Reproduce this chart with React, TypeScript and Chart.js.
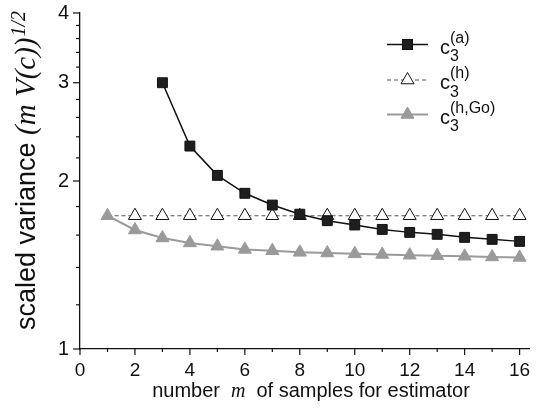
import { useEffect, useRef } from "react";
import { Chart, registerables } from "chart.js";

Chart.register(...registerables);

// ---- data ----
const mA = [3, 4, 5, 6, 7, 8, 9, 10, 11, 12, 13, 14, 15, 16];
const valuesA = [3.0, 2.31, 2.047, 1.901, 1.811, 1.744, 1.698, 1.668, 1.638, 1.618, 1.605, 1.585, 1.572, 1.559];

const mH = [1, 2, 3, 4, 5, 6, 7, 8, 9, 10, 11, 12, 13, 14, 15, 16];
const valuesH = [1.733, 1.733, 1.733, 1.733, 1.733, 1.733, 1.733, 1.733, 1.733, 1.733, 1.733, 1.733, 1.733, 1.733, 1.733, 1.733];

const mGo = [1, 2, 3, 4, 5, 6, 7, 8, 9, 10, 11, 12, 13, 14, 15, 16];
const valuesGo = [1.733, 1.634, 1.581, 1.549, 1.528, 1.508, 1.5, 1.49, 1.486, 1.481, 1.477, 1.4725, 1.469, 1.466, 1.462, 1.459];

const xTickValues = [0, 1, 2, 3, 4, 5, 6, 7, 8, 9, 10, 11, 12, 13, 14, 15, 16];
const xLabelledTicks = [0, 2, 4, 6, 8, 10, 12, 14, 16];
const yTickValues = [1, 1.2, 1.4, 1.6, 1.8, 2, 2.2, 2.4, 2.6, 2.8, 3, 3.2, 3.4, 3.6, 3.8, 4];
const yLabelledTicks = [1, 2, 3, 4];

const legendBase = "c";
const legendSub = "3";
const legendSup = ["(a)", "(h)", "(h,Go)"];

const xTitleParts = ["number", "m", "of samples for estimator"];
const yTitleParts = ["scaled variance ", "(m V(c))", "1/2"];

const SANS = "'Liberation Sans', Arial, sans-serif";
const SERIF = "'Liberation Serif', 'Times New Roman', serif";
const INK = "#111";
const GRAY = "#9a9a9a";

function drawTriangle(ctx: CanvasRenderingContext2D, x: number, y: number, r: number, fill: string, stroke: string) {
  const s = Math.sin((2 * Math.PI) / 3) * r;
  ctx.beginPath();
  ctx.moveTo(x, y - r);
  ctx.lineTo(x + s, y + r / 2);
  ctx.lineTo(x - s, y + r / 2);
  ctx.closePath();
  ctx.fillStyle = fill;
  ctx.fill();
  ctx.lineWidth = 1;
  ctx.strokeStyle = stroke;
  ctx.stroke();
}

const decorPlugin = {
  id: "decor",
  afterDraw(chart: any) {
    const ctx: CanvasRenderingContext2D = chart.ctx;
    const xs = chart.scales.x;
    const ys = chart.scales.y;
    const area = chart.chartArea;
    ctx.save();
    // tick marks
    ctx.strokeStyle = INK;
    ctx.lineWidth = 1.2;
    for (const v of xTickValues) {
      const px = xs.getPixelForValue(v);
      const len = xLabelledTicks.includes(v) ? 6 : 3;
      ctx.beginPath();
      ctx.moveTo(px, area.bottom);
      ctx.lineTo(px, area.bottom + len);
      ctx.stroke();
    }
    for (const v of yTickValues) {
      const py = ys.getPixelForValue(v);
      const len = yLabelledTicks.includes(v) ? 7 : 4;
      ctx.beginPath();
      ctx.moveTo(area.left - len, py);
      ctx.lineTo(area.left, py);
      ctx.stroke();
    }

    // legend
    const lx0 = 387;
    const lx1 = 428;
    const mx = 407.5;
    const rows = [44.5, 80, 114.5];
    rows.forEach((ly, i) => {
      ctx.save();
      ctx.beginPath();
      if (i === 0) {
        ctx.strokeStyle = INK;
        ctx.lineWidth = 1.5;
      } else if (i === 1) {
        ctx.strokeStyle = "#555";
        ctx.lineWidth = 1.2;
        ctx.setLineDash([4, 3]);
      } else {
        ctx.strokeStyle = GRAY;
        ctx.lineWidth = 2;
      }
      ctx.moveTo(lx0, ly);
      ctx.lineTo(lx1, ly);
      ctx.stroke();
      ctx.restore();
      if (i === 0) {
        ctx.fillStyle = "#1e1e1e";
        ctx.fillRect(mx - 5, ly - 5, 10, 10);
        ctx.strokeStyle = INK;
        ctx.lineWidth = 1;
        ctx.strokeRect(mx - 5, ly - 5, 10, 10);
      } else if (i === 1) {
        drawTriangle(ctx, mx, ly, 7.5, "#fff", INK);
      } else {
        drawTriangle(ctx, mx, ly, 7.5, GRAY, GRAY);
      }
      ctx.fillStyle = INK;
      ctx.textAlign = "left";
      ctx.textBaseline = "alphabetic";
      ctx.font = `20px ${SANS}`;
      ctx.fillText(legendBase, 440, ly + 9);
      ctx.font = `16px ${SANS}`;
      ctx.fillText(legendSub, 450, ly + 16.5);
      ctx.fillText(legendSup[i], 450, ly - 2);
    });

    // x title
    ctx.fillStyle = INK;
    ctx.textBaseline = "alphabetic";
    ctx.textAlign = "left";
    ctx.font = `20px ${SANS}`;
    const w1 = ctx.measureText(xTitleParts[0]).width;
    const w3 = ctx.measureText(xTitleParts[2]).width;
    ctx.font = `italic 20px ${SERIF}`;
    const w2 = ctx.measureText(xTitleParts[1]).width;
    const gap = 11;
    const total = w1 + gap + w2 + gap + w3;
    let tx = 311 - total / 2;
    const tb = 397;
    ctx.font = `20px ${SANS}`;
    ctx.fillText(xTitleParts[0], tx, tb);
    tx += w1 + gap;
    ctx.font = `italic 20px ${SERIF}`;
    ctx.fillText(xTitleParts[1], tx, tb);
    tx += w2 + gap;
    ctx.font = `20px ${SANS}`;
    ctx.fillText(xTitleParts[2], tx, tb);

    // y title (rotated)
    ctx.translate(35, 330);
    ctx.rotate(-Math.PI / 2);
    ctx.font = `27px ${SANS}`;
    ctx.fillText(yTitleParts[0], 0, 0);
    let yy = ctx.measureText(yTitleParts[0]).width;
    ctx.font = `italic 29px ${SERIF}`;
    ctx.fillText(yTitleParts[1], yy, 0);
    yy += ctx.measureText(yTitleParts[1]).width;
    ctx.font = `italic 20px ${SERIF}`;
    ctx.fillText(yTitleParts[2], yy + 1, -10);
    ctx.restore();
  },
};

export default function App() {
  const ref = useRef<HTMLCanvasElement>(null);
  useEffect(() => {
    const canvas = ref.current;
    if (!canvas) return;
    const chart = new Chart(canvas, {
      type: "line",
      data: {
        datasets: [
          {
            label: "c3(a)",
            data: mA.map((m, i) => ({ x: m, y: valuesA[i] })),
            borderColor: INK,
            borderWidth: 1.5,
            pointStyle: "rect",
            pointRadius: 7,
            pointBackgroundColor: "#1e1e1e",
            pointBorderColor: INK,
            pointBorderWidth: 1,
            tension: 0,
          },
          {
            label: "c3(h,Go)",
            data: mGo.map((m, i) => ({ x: m, y: valuesGo[i] })),
            borderColor: GRAY,
            borderWidth: 2,
            pointStyle: "triangle",
            pointRadius: 7.5,
            pointBackgroundColor: GRAY,
            pointBorderColor: GRAY,
            pointBorderWidth: 1,
            tension: 0,
          },
          {
            label: "c3(h)",
            data: mH.map((m, i) => ({ x: m, y: valuesH[i] })),
            borderColor: "#555",
            borderWidth: 1.2,
            borderDash: [4, 3],
            pointStyle: "triangle",
            pointRadius: (c: any) => (c.dataIndex === 0 ? 0 : 7.5),
            pointBackgroundColor: "#fff",
            pointBorderColor: INK,
            pointBorderWidth: 1,
            tension: 0,
          },
        ],
      },
      options: {
        responsive: false,
        animation: false,
        events: [],
        clip: false as any,
        layout: { padding: { top: 13, right: 1, left: 0, bottom: 0 } },
        plugins: { legend: { display: false }, tooltip: { enabled: false }, title: { display: false } },
        scales: {
          x: {
            type: "linear",
            min: 0,
            max: 16.36,
            afterBuildTicks: (s: any) => {
              s.ticks = xTickValues.map((v) => ({ value: v }));
            },
            afterFit: (s: any) => {
              s.height = 60;
              s.paddingLeft = 0;
              s.paddingRight = 0;
            },
            ticks: {
              autoSkip: false,
              maxRotation: 0,
              padding: 10,
              color: INK,
              font: { family: SANS, size: 19 },
              callback: (v: any) => (xLabelledTicks.includes(Number(v)) ? String(v) : ""),
            },
            grid: { display: false, drawTicks: false, tickLength: 0 },
            border: { display: true, color: INK, width: 1.3 },
          },
          y: {
            type: "logarithmic",
            min: 1,
            max: 4,
            afterBuildTicks: (s: any) => {
              s.ticks = yTickValues.map((v) => ({ value: v }));
            },
            afterFit: (s: any) => {
              s.width = 80;
              s.paddingTop = 0;
              s.paddingBottom = 0;
            },
            ticks: {
              autoSkip: false,
              padding: 11,
              color: INK,
              font: { family: SANS, size: 20 },
              callback: (v: any) => (yLabelledTicks.includes(Number(v)) ? String(v) : ""),
            },
            grid: { display: false, drawTicks: false, tickLength: 0 },
            border: { display: true, color: INK, width: 1.3 },
          },
        },
      },
      plugins: [decorPlugin],
    } as any);
    return () => chart.destroy();
  }, []);
  return (
    <div style={{ position: "fixed", left: 0, top: 0, width: 538, height: 409, background: "#fff" }}>
      <canvas ref={ref} width={538} height={409} style={{ display: "block", width: 538, height: 409 }} />
    </div>
  );
}
